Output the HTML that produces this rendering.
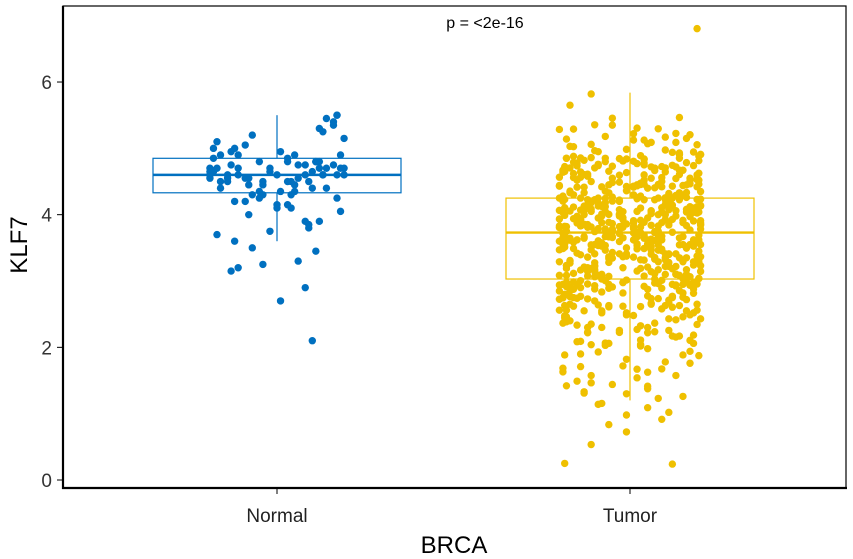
<!DOCTYPE html>
<html><head><meta charset="utf-8"><style>
html,body{margin:0;padding:0;background:#fff;}
svg{display:block;font-family:"Liberation Sans",Arial,sans-serif;}
</style></head><body>
<svg id="chart" width="853" height="559">
  <g id="points"></g>
  <g id="boxes"></g>
  <rect x="63" y="6" width="783" height="482" fill="none" stroke="#000" stroke-width="1.2"/>
  <line x1="63" y1="6" x2="63" y2="489" stroke="#000" stroke-width="2.2"/>
  <line x1="62" y1="488" x2="847" y2="488" stroke="#000" stroke-width="2.2"/>
  <g id="yticks"></g>
  <g id="xticks"></g>
  <text x="485" y="28" font-size="16" text-anchor="middle" fill="#000">p = &lt;2e-16</text>
  <text x="454" y="553" font-size="24" text-anchor="middle" fill="#000">BRCA</text>
  <text transform="translate(27,245) rotate(-90)" font-size="24" text-anchor="middle" fill="#000">KLF7</text>
</svg>
<script>
const categories = ["Normal","Tumor"];
const colors = ["#0070C0","#EFC000"];
const yTicks = [0,2,4,6];
const boxQ1 = [4.33, 3.03];
const boxMedian = [4.60, 3.73];
const boxQ3 = [4.85, 4.25];
const whiskerLow = [3.60, 1.20];
const whiskerHigh = [5.50, 5.84];
const normalVals = [4.6,4.8,4.3,5.5,4.7,4.5,3.9,4.9,4.4,5.2,4.6,4.1,4.75,3.3,4.65,5.0,4.5,4.2,5.4,4.7,3.8,4.55,4.9,4.35,2.7,4.6,5.1,4.8,4.0,4.45,3.6,4.7,5.3,4.5,4.25,3.2,4.85,4.6,4.4,5.45,3.5,4.7,4.15,4.95,4.55,2.1,4.65,4.3,5.05,4.75,3.75,4.5,4.6,4.05,4.8,4.35,5.25,4.7,3.45,4.55,4.9,4.2,4.65,3.9,4.45,5.5,4.6,4.8,2.9,4.5,4.7,4.3,5.15,4.6,3.15,4.75,4.4,4.85,4.1,4.55,5.35,4.65,3.85,4.5,4.7,4.25,4.95,4.6,3.7,4.8,4.45,4.35,5.0,4.55,4.7,3.25,4.6,4.9,4.15,4.75];
const normalJitter = [-0.19,0.12,-0.04,0.17,-0.11,0.03,0.08,-0.16,0.14,-0.07,0.19,0.0,-0.13,0.06,0.10,-0.18,0.04,-0.09,0.16,-0.02,0.09,-0.14,0.18,-0.05,0.01,0.13,-0.17,0.11,-0.08,0.05,-0.12];
const tumorVals = [3.8,4.1,2.9,3.5,4.6,3.2,4.0,2.4,3.7,4.4,3.1,5.0,3.9,2.7,4.2,3.6,4.8,3.3,2.1,4.5,3.8,3.0,4.1,2.6,3.4,4.9,3.7,1.8,4.3,3.5,
4.0,3.2,2.8,4.7,3.6,4.2,1.5,3.9,4.4,3.0,2.5,3.8,5.1,3.4,4.1,2.2,3.7,4.6,3.3,2.9,4.0,3.6,4.8,1.9,3.5,4.3,2.7,3.9,4.2,3.1,
3.7,4.5,2.3,3.4,4.0,3.8,2.6,4.9,3.2,4.1,3.6,1.3,4.4,3.0,2.8,3.9,4.7,3.5,2.0,4.2,3.3,3.8,4.6,2.4,3.7,4.0,3.1,5.3,2.9,4.3,
3.6,2.5,4.1,3.9,1.7,4.5,3.3,3.0,4.8,2.7,3.8,4.2,3.5,2.1,4.0,3.7,4.4,2.9,3.2,5.0,3.6,1.1,4.1,3.4,2.6,3.9,4.6,3.1,2.3,4.3,
3.8,4.0,2.8,3.5,4.7,3.3,2.2,4.2,3.7,0.9,4.4,3.0,3.6,4.9,2.5,3.9,4.1,3.2,1.6,4.5,3.4,2.9,4.0,3.8,2.7,4.6,3.1,5.2,3.5,2.4,
4.2,3.6,1.4,3.9,4.3,3.0,2.6,4.8,3.7,4.1,3.3,2.0,4.5,3.5,2.8,4.0,3.8,4.7,3.2,2.3,4.4,3.6,1.9,4.1,3.4,3.0,4.9,2.7,3.9,4.2,
3.5,2.9,4.6,3.8,1.2,4.0,3.3,4.4,2.5,3.7,5.1,3.1,4.2,2.2,3.6,4.8,3.9,2.8,4.1,3.4,0.5,4.5,3.0,3.7,2.6,4.3,3.2,4.7,2.1,3.8,
4.0,3.5,2.7,4.4,3.1,3.9,1.8,4.6,3.6,4.2,2.4,3.3,5.4,2.9,4.1,3.7,1.5,4.5,3.0,3.8,4.3,2.6,3.4,4.9,2.0,3.9,4.0,3.2,2.8,4.6,
3.7,4.1,2.3,3.5,4.8,3.0,3.9,1.6,4.2,3.3,2.7,4.5,3.6,5.0,2.5,4.0,3.8,1.0,4.3,3.1,3.4,4.7,2.9,3.7,4.1,2.2,3.5,4.4,3.0,0.8,
3.9,4.6,3.2,2.6,4.0,3.6,1.3,4.3,3.8,2.9,4.9,3.4,2.0,4.1,3.7,4.5,2.4,3.1,5.2,3.9,2.8,4.2,3.5,1.7,4.7,3.3,3.0,4.4,2.5,3.8,
4.1,3.4,2.7,4.8,3.6,1.9,4.0,3.2,4.5,2.3,3.9,3.7,5.5,2.9,4.2,3.5,1.4,4.6,3.0,3.8,4.3,2.6,3.3,4.9,2.1,4.0,3.6,0.3,4.4,3.1,
3.8,2.5,4.1,3.5,4.7,2.8,3.9,1.2,4.2,3.4,3.0,5.1,2.4,3.7,4.5,3.2,1.8,4.0,3.6,4.8,2.7,3.3,4.3,2.2,3.8,4.6,3.1,1.6,4.1,3.5,
4.0,3.7,2.9,4.4,3.2,2.0,4.9,3.6,4.2,2.6,3.4,5.3,3.0,3.9,1.5,4.5,3.3,2.8,4.1,3.8,0.7,4.6,3.5,2.3,4.0,3.1,4.7,2.5,3.7,4.3,
3.6,4.2,2.1,3.9,4.8,3.0,3.4,1.1,4.4,3.7,2.7,4.0,3.2,5.0,2.4,3.8,4.5,3.5,1.9,4.1,3.3,2.9,4.6,3.6,2.2,4.3,3.0,5.6,3.9,2.6,
4.1,3.5,2.8,4.7,3.8,1.7,4.2,3.1,4.5,2.3,3.6,4.0,6.8,2.9,4.4,3.4,1.4,3.9,4.8,3.2,2.5,4.1,3.7,0.2,4.3,3.0,5.8,2.0,3.8,4.6,
3.75,4.05,3.15,4.45,3.55,2.95,4.25,3.85,3.35,4.65,3.05,3.95,4.35,2.85,3.65,4.15,3.45,4.75,3.25,3.95,4.55,2.75,3.85,4.15,3.35,4.85,3.05,3.65,4.25,2.65,
3.92,4.38,3.08,3.62,4.18,3.48,2.98,4.52,3.78,4.08,3.28,4.68,3.58,2.88,4.28,3.88,3.18,4.42,3.72,4.02,2.78,3.52,4.92,3.38,4.12,3.82,2.68,4.32,3.68,3.12,
4.14,3.46,2.92,3.96,4.56,3.26,3.76,4.24,3.06,4.74,3.56,2.82,4.04,3.86,3.36,4.44,2.72,3.66,4.16,3.16,4.84,3.44,3.94,2.96,4.34,3.74,3.24,4.64,3.54,4.06,
3.63,4.27,2.87,3.83,4.47,3.13,3.43,4.07,3.73,4.57,2.93,3.53,4.17,3.33,3.93,4.37,2.63,3.67,4.87,3.23,4.03,3.77,2.83,4.43,3.47,3.87,4.13,3.03,4.63,3.57,
3.81,4.19,3.01,3.61,4.41,2.91,3.71,4.09,3.31,4.79,3.51,2.81,4.29,3.91,3.21,4.59,3.41,3.99,2.71,4.21,3.69,3.11,4.49,3.59,4.01,3.39,2.61,4.31,3.79,4.71,
2.45,3.27,1.95,2.35,3.17,2.55,1.75,2.15,3.07,2.25,1.55,2.65,2.05,3.37,1.85,2.75,2.15,1.45,2.85,2.35,1.65,2.55,2.95,1.25,2.25,2.45,1.35,2.05,2.65,1.05,
4.62,5.08,4.98,5.18,4.88,5.28,4.78,5.02,4.68,5.12,4.94,4.82,5.22,4.72,5.04,4.86,5.14,4.76,4.96,5.34,4.66,5.06,4.92,5.16,4.84,4.74,5.26,4.58,5.44,4.99];
const tumorJitter = [-0.20,0.13,-0.05,0.18,-0.12,0.02,0.09,-0.17,0.15,-0.08,0.20,-0.01,-0.14,0.06,0.11,-0.19,0.04,-0.10,0.17,-0.03,0.08,-0.15,0.19,-0.06,0.01,0.14,-0.18,0.10,-0.09,0.05,-0.13,0.16,-0.02,0.12,-0.16,0.07,-0.11,0.03,-0.07,0.195,-0.185];
const tumorFine = [0.03,-0.04,0.01,0.05,-0.02,-0.05,0.04,0.0,-0.03,0.02,0.045,-0.015,0.025,-0.035,0.015,-0.045,0.035,-0.025,0.005,-0.01,0.03,-0.05,0.02];

const NS = "http://www.w3.org/2000/svg";
function yScale(v){ return 480 - v*66.33; }
function xScale(i){ return 277 + i*353; }
const BOXW = 124;

const pts = document.getElementById("points");
function drawPts(vals, jit, fine, ci){
  vals.forEach((v,k)=>{
    const c = document.createElementNS(NS,"circle");
    c.setAttribute("cx", xScale(ci) + jit[k%jit.length]*353);
    c.setAttribute("cy", yScale(v + fine[k%fine.length]));
    c.setAttribute("r", 3.7);
    c.setAttribute("fill", colors[ci]);
    
    
    pts.appendChild(c);
  });
}
drawPts(normalVals, normalJitter, [0], 0);
drawPts(tumorVals, tumorJitter, tumorFine, 1);

const boxes = document.getElementById("boxes");
categories.forEach((cat,i)=>{
  const g = document.createElementNS(NS,"g");
  
  
  const x = xScale(i);
  const mk = (tag, attrs)=>{ const e=document.createElementNS(NS,tag); for(const k in attrs) e.setAttribute(k, attrs[k]); e.setAttribute("stroke", colors[i]); g.appendChild(e); return e; };
  const w1 = mk("line",{x1:x,x2:x,y1:yScale(whiskerHigh[i]),y2:yScale(boxQ3[i]),"stroke-width":1.2});
  
  const w2 = mk("line",{x1:x,x2:x,y1:yScale(boxQ1[i]),y2:yScale(whiskerLow[i]),"stroke-width":1.2});
  
  const r = mk("rect",{x:x-BOXW,y:yScale(boxQ3[i]),width:BOXW*2,height:yScale(boxQ1[i])-yScale(boxQ3[i]),fill:"none","stroke-width":1.2});
  
  const m = mk("line",{x1:x-BOXW,x2:x+BOXW,y1:yScale(boxMedian[i]),y2:yScale(boxMedian[i]),"stroke-width":2.4});
  
  boxes.appendChild(g);
});

const yt = document.getElementById("yticks");
yTicks.forEach(t=>{
  const l = document.createElementNS(NS,"line");
  l.setAttribute("x1",57); l.setAttribute("x2",63);
  l.setAttribute("y1",yScale(t)); l.setAttribute("y2",yScale(t));
  l.setAttribute("stroke","#000");
  
  
  yt.appendChild(l);
  const tx = document.createElementNS(NS,"text");
  tx.setAttribute("x",52); tx.setAttribute("y",yScale(t)+7);
  tx.setAttribute("font-size",19); tx.setAttribute("text-anchor","end"); tx.setAttribute("fill","#333");
  tx.textContent = t;
  
  
  yt.appendChild(tx);
});
const xt = document.getElementById("xticks");
categories.forEach((c,i)=>{
  const l = document.createElementNS(NS,"line");
  l.setAttribute("x1",xScale(i)); l.setAttribute("x2",xScale(i));
  l.setAttribute("y1",488); l.setAttribute("y2",494);
  l.setAttribute("stroke","#000");
  
  
  xt.appendChild(l);
  const tx = document.createElementNS(NS,"text");
  tx.setAttribute("x",xScale(i)); tx.setAttribute("y",522);
  tx.setAttribute("font-size",19); tx.setAttribute("text-anchor","middle"); tx.setAttribute("fill","#222");
  tx.textContent = c;
  
  
  xt.appendChild(tx);
});
</script>
</body></html>
